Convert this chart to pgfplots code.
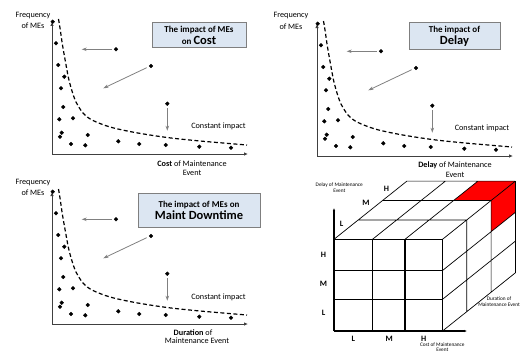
\documentclass[border=0pt]{standalone}
\usepackage{fontspec}
\setmainfont{Carlito}
\usepackage{pgfplots}
\pgfplotsset{compat=1.18}
\usepackage{pgfplotstable}
\usetikzlibrary{arrows.meta}
\definecolor{boxfill}{HTML}{DCE6F2}
\definecolor{boxedge}{HTML}{7F7F7F}
\definecolor{arrowgray}{HTML}{808080}

\pgfplotstableread{
x y
0.7 132.3
4 110.7
6.3 89
12.3 77.3
9 65.7
11.3 47
7.3 34.7
21 35.7
9.7 21.3
8 17.3
35.7 19
19 10
33.3 8.7
66.3 12.7
87.3 10
113.7 9
147.3 7.3
179 6.3
64 104.7
99 88
115.3 50.3
}\dotsdata

\pgfplotstableread{
x y
6.5 135
8 126
10.5 109
13.5 92
16.5 76
20 63
24 52
31 41
40 34
58 27
83 21.5
115 16.5
148 13
195 9
}\curvedata

\pgfplotsset{
  mepanel/.style={scale only axis, width=196pt, height=132pt,
    xmin=0, xmax=196, ymin=0, ymax=132, anchor=south west,
    axis lines=left,
    axis line style={black!75, line width=0.8pt, -{Latex[length=4pt,width=3.5pt]}},
    xtick=\empty, ytick=\empty, clip=false},
  mearrow/.style={arrowgray, line width=0.8pt, -{Stealth[length=5pt,width=3.5pt]}},
}
\newcommand{\panelcontent}{%
  \addplot[only marks, mark=*, mark size=1.9pt, black] table {\dotsdata};
  \addplot[black, line width=1.2pt, dash pattern=on 4pt off 2.5pt, smooth] table {\curvedata};
  \addplot[mearrow] coordinates {(59.7,104.7) (29.7,104.7)};
  \addplot[mearrow] coordinates {(94.7,86.3) (51.3,65.7)};
  \addplot[mearrow] coordinates {(115.3,45.7) (115.3,23.3)};
}
\newcommand{\sm}{\fontsize{8.2}{9}\selectfont}
\newcommand{\tn}{\fontsize{5.3}{6}\selectfont}

\begin{document}
\begin{tikzpicture}
\path[use as bounding box] (0pt,0pt) rectangle (521pt,-353pt);

% Panel 1
\begin{axis}[mepanel, at={(52pt,-154pt)}]
\panelcontent
\node[font=\sm] at (axis cs:-19,138) {Frequency};
\node[font=\sm] at (axis cs:-19,128) {of MEs};
\node[font=\sm] at (axis cs:166.5,28) {Constant impact};
\node[font=\sm] at (axis cs:140,-10) {\textbf{Cost} of Maintenance};
\node[font=\sm] at (axis cs:140,-19) {Event};
\node[draw=boxedge, fill=boxfill, line width=0.8pt, minimum width=94pt, minimum height=25pt, inner sep=0pt, align=center, font=\bfseries] at (axis cs:147,119) {\fontsize{9}{13}\selectfont The impact of MEs\\ \fontsize{9}{13}\selectfont on \fontsize{12.5}{13}\selectfont Cost};
\end{axis}

% Panel 2
\begin{axis}[mepanel, at={(317pt,-156pt)}]
\panelcontent
\node[font=\sm] at (axis cs:-26,140) {Frequency};
\node[font=\sm] at (axis cs:-26,129) {of MEs};
\node[font=\sm] at (axis cs:165,28) {Constant impact};
\node[font=\sm] at (axis cs:138,-9) {\textbf{Delay} of Maintenance};
\node[font=\sm] at (axis cs:138,-19) {Event};
\node[draw=boxedge, fill=boxfill, line width=0.8pt, minimum width=91pt, minimum height=27pt, inner sep=0pt, align=center, font=\bfseries] at (axis cs:137.5,120) {\fontsize{9}{14}\selectfont The impact of\\ \fontsize{12.5}{14}\selectfont Delay};
\end{axis}

% Panel 3
\begin{axis}[mepanel, at={(52pt,-324pt)}]
\panelcontent
\node[font=\sm] at (axis cs:-19,141) {Frequency};
\node[font=\sm] at (axis cs:-19,131) {of MEs};
\node[font=\sm] at (axis cs:166.5,27) {Constant impact};
\node[font=\sm] at (axis cs:141,-9) {\textbf{Duration} of};
\node[font=\sm] at (axis cs:145,-17) {Maintenance Event};
\node[draw=boxedge, fill=boxfill, line width=0.8pt, minimum width=122pt, minimum height=34pt, inner sep=0pt, align=center, font=\bfseries] at (axis cs:147,114) {\fontsize{9}{15}\selectfont The impact of MEs on\\ \fontsize{12.5}{15}\selectfont Maint Downtime};
\end{axis}

% Panel 4: cube
\begin{axis}[scale only axis, width=221pt, height=183pt, at={(300pt,-353pt)}, anchor=south west,
  xmin=300, xmax=521, ymin=170, ymax=353, y dir=reverse, axis lines=none, clip=false,
  unbounded coords=jump]
\addplot[fill=red, draw=none] coordinates {(453.6,200.5) (491.1,200.5) (515.4,181.1) (477.9,181.1)} -- cycle;
\addplot[fill=red, draw=none] coordinates {(491.1,200.5) (515.4,181.1) (515.4,212.3) (491.1,231.7)} -- cycle;
% top face
\addplot[black, line width=0.7pt] coordinates {
 (334,239.3) (406.9,181.1) (nan,nan)
 (372.5,239.3) (445.4,181.1) (nan,nan)
 (405,239.3) (477.9,181.1) (nan,nan)
 (442.5,239.3) (515.4,181.1) (nan,nan)
 (358.3,219.9) (466.8,219.9) (nan,nan)
 (382.6,200.5) (491.1,200.5) (nan,nan)
 (406.9,181.1) (515.4,181.1)
};
% right face
\addplot[black, line width=0.7pt] coordinates {
 (466.8,219.9) (466.8,311.6) (nan,nan)
 (491.1,200.5) (491.1,292.2) (nan,nan)
 (515.4,181.1) (515.4,272.8) (nan,nan)
 (442.5,270.5) (515.4,212.3) (nan,nan)
 (442.5,299.3) (515.4,241.1) (nan,nan)
 (442.5,331) (515.4,272.8)
};
% front face
\addplot[black, line width=1.1pt] coordinates {
 (372.5,239.3) (372.5,331) (nan,nan)
 (405,239.3) (405,331) (nan,nan)
 (442.5,239.3) (442.5,331) (nan,nan)
 (334,239.3) (442.5,239.3) (nan,nan)
 (334,270.5) (442.5,270.5) (nan,nan)
 (334,299.3) (442.5,299.3)
};
% axes
\addplot[black, line width=1.1pt, -{Latex[length=3pt,width=2.5pt]}] coordinates {(334,331) (334,208)};
\addplot[black, line width=1.1pt, -{Latex[length=3pt,width=2.5pt]}] coordinates {(334,331) (467,331)};
% labels
\node[font=\tn] at (axis cs:339.3,185.3) {Delay of Maintenance};
\node[font=\tn] at (axis cs:339.3,191) {Event};
\node[font=\sm\bfseries] at (axis cs:341.5,224) {L};
\node[font=\sm\bfseries] at (axis cs:366,203) {M};
\node[font=\sm\bfseries] at (axis cs:386.5,189) {H};
\node[font=\sm\bfseries] at (axis cs:323.5,255) {H};
\node[font=\sm\bfseries] at (axis cs:323.5,284) {M};
\node[font=\sm\bfseries] at (axis cs:323.5,312.7) {L};
\node[font=\sm\bfseries] at (axis cs:353.3,338.5) {L};
\node[font=\sm\bfseries] at (axis cs:389.2,338.5) {M};
\node[font=\sm\bfseries] at (axis cs:423.8,338.5) {H};
\node[font=\tn] at (axis cs:442.3,345) {Cost of Maintenance};
\node[font=\tn] at (axis cs:442.3,350.3) {Event};
\node[font=\tn, align=center, inner sep=0.5pt, anchor=east] at (axis cs:520.5,301.2) {Duration of\\Maintenance Event};
\end{axis}
\end{tikzpicture}
\end{document}
